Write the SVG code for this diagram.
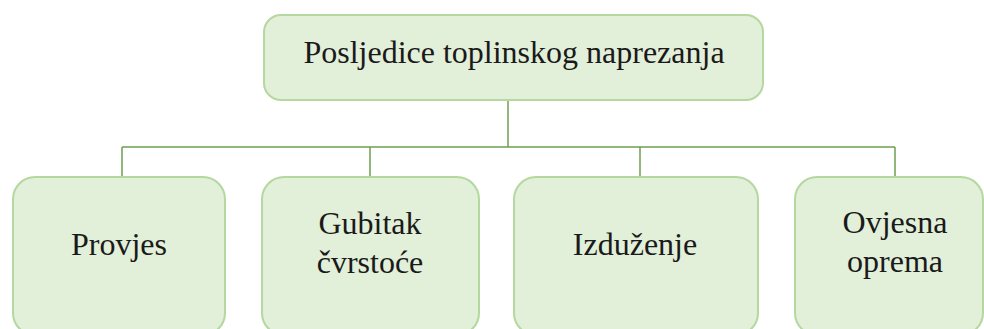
<svg xmlns="http://www.w3.org/2000/svg" width="984" height="329" viewBox="0 0 984 329">
<style>
.box{fill:#e2efd9;stroke:#b5d7a0;stroke-width:2}
.lbl{font-family:"Liberation Serif","Times New Roman",serif;font-size:32px;fill:#1a1a1a;text-anchor:middle}
.con{fill:none;stroke:#6f9f52;stroke-width:1.5}
</style>
<rect width="984" height="329" fill="#ffffff"/>
<g id="connectors">
<path class="con" d="M508,100 V147 M122,147 H895 M122,147 V177 M370,147 V177 M640,147 V177 M895,147 V177"/>
</g>
<g id="root">
<rect class="box" x="264" y="15" width="499" height="85" rx="17"/>
<text class="lbl" x="514" y="63">Posljedice toplinskog naprezanja</text>
</g>
<g id="provjes">
<rect class="box" x="13" y="177" width="212" height="158" rx="22"/>
<text class="lbl" x="119" y="255">Provjes</text>
</g>
<g id="gubitak">
<rect class="box" x="262" y="177" width="217" height="158" rx="22"/>
<text class="lbl" x="370" y="234">Gubitak</text>
<text class="lbl" x="370" y="273">čvrstoće</text>
</g>
<g id="izduzenje">
<rect class="box" x="514" y="177" width="244" height="158" rx="22"/>
<text class="lbl" x="635" y="255">Izduženje</text>
</g>
<g id="ovjesna">
<rect class="box" x="795" y="177" width="188" height="158" rx="22"/>
<text class="lbl" x="895" y="233">Ovjesna</text>
<text class="lbl" x="895" y="272">oprema</text>
</g>
</svg>
